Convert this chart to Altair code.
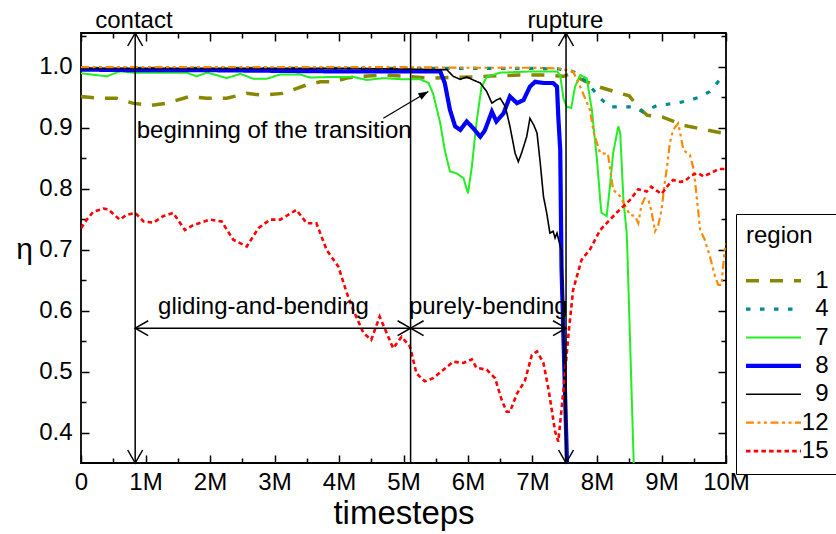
import altair as alt
import pandas as pd

# ---------------- data ----------------
regions = ["1", "4", "7", "8", "9", "12", "15"]
colors = ["#888800", "#008b8b", "#22ee22", "#0000ff", "#000000", "#ff8800", "#ff0000"]
widths = [3.5, 3.2, 2.0, 4.2, 1.6, 2.2, 2.6]
dashes = [[13, 11], [4.5, 9.5], [1, 0], [1, 0], [1, 0], [8, 3.5, 3, 3.5, 3, 3.5], [4.5, 3.2]]

t1 = [0, 0.3, 0.55, 0.8, 1.07, 1.33, 1.69, 1.95, 2.26, 2.57, 2.83, 3.13, 3.29, 3.5, 3.71, 3.91, 4.12, 4.33, 4.69, 5.05,
      5.4, 6.08, 6.44, 6.8, 7.2, 7.48, 7.58, 7.84, 8.05, 8.3, 8.5, 8.65, 8.78, 9.02, 9.33, 9.6, 9.95, 10]
e1 = [0.951, 0.948, 0.948, 0.94, 0.936, 0.94, 0.951, 0.948, 0.948, 0.956, 0.953, 0.956, 0.962, 0.97, 0.975, 0.975, 0.981,
      0.984, 0.986, 0.984, 0.981, 0.983, 0.985, 0.986, 0.986, 0.984, 0.988, 0.975, 0.966, 0.958, 0.952, 0.932, 0.92, 0.917,
      0.904, 0.898, 0.891, 0.889]

t4 = [0, 1, 2, 3, 4, 5, 6, 7, 7.4, 7.63, 7.84, 8.05, 8.2, 8.56, 8.71, 8.93, 9.24, 9.44, 9.6, 9.75, 9.9, 10]
e4 = [0.997, 0.997, 0.997, 0.997, 0.997, 0.997, 0.997, 0.997, 0.996, 0.992, 0.975, 0.948, 0.934, 0.934, 0.926, 0.936,
      0.94, 0.945, 0.95, 0.959, 0.978, 0.988]

t7 = [0, 0.4, 0.6, 0.81, 1.0, 1.33, 1.64, 1.79, 1.95, 2.1, 2.26, 2.47, 2.67, 2.88, 3.09, 3.4, 3.55, 3.91, 4.22, 4.43,
      4.69, 5.0, 5.26, 5.39, 5.46, 5.57, 5.64, 5.72, 5.82, 5.93, 6.0, 6.06, 6.13, 6.21, 6.29, 6.5, 7.0, 7.38, 7.43, 7.48,
      7.53, 7.6, 7.66, 7.74, 7.84, 7.92, 8.0, 8.05, 8.07, 8.15, 8.2, 8.25, 8.33, 8.36, 8.41, 8.46, 8.47, 8.575]
e7 = [0.989, 0.984, 0.992, 0.99, 0.99, 0.99, 0.99, 0.984, 0.99, 0.986, 0.981, 0.988, 0.98, 0.98, 0.987, 0.987, 0.982,
      0.983, 0.983, 0.978, 0.981, 0.979, 0.979, 0.973, 0.955, 0.907, 0.863, 0.828, 0.825, 0.817, 0.792, 0.836, 0.907,
      0.967, 0.983, 0.99, 0.992, 0.992, 0.985, 0.948, 0.934, 0.932, 0.967, 0.986, 0.981, 0.929, 0.847, 0.781, 0.76,
      0.755, 0.803, 0.858, 0.902, 0.891, 0.781, 0.727, 0.70, 0.33]

t8 = [0, 1, 2, 3, 4, 4.5, 5.0, 5.57, 5.64, 5.72, 5.8, 5.88, 5.98, 6.08, 6.19, 6.26, 6.37, 6.44, 6.55, 6.65, 6.76, 6.86,
      6.96, 7.04, 7.17, 7.32, 7.38, 7.4, 7.43, 7.45, 7.54]
e8 = [0.995, 0.994, 0.994, 0.993, 0.992, 0.992, 0.992, 0.992, 0.973, 0.929, 0.902, 0.896, 0.91, 0.899, 0.885, 0.895,
      0.926, 0.91, 0.923, 0.951, 0.94, 0.945, 0.967, 0.975, 0.973, 0.973, 0.967, 0.918, 0.863, 0.67, 0.33]

t9 = [0, 1, 2, 3, 4, 5, 5.57, 5.67, 5.77, 5.88, 5.98, 6.08, 6.19, 6.29, 6.37, 6.44, 6.5, 6.58, 6.65, 6.73, 6.78, 6.83,
      6.91, 6.96, 7.02, 7.07, 7.12, 7.17, 7.22, 7.27, 7.32, 7.35, 7.38, 7.43, 7.45, 7.53]
e9 = [0.997, 0.997, 0.997, 0.997, 0.997, 0.996, 0.995, 0.995, 0.984, 0.979, 0.983, 0.978, 0.973, 0.959, 0.94, 0.945,
      0.948, 0.934, 0.902, 0.858, 0.844, 0.858, 0.885, 0.915, 0.904, 0.891, 0.842, 0.787, 0.76, 0.727, 0.73, 0.719,
      0.727, 0.705, 0.70, 0.33]

t12 = [0, 1, 2, 3, 4, 5, 6, 7, 7.4, 7.63, 7.74, 7.89, 7.95, 8.05, 8.17, 8.25, 8.36, 8.51, 8.59, 8.64, 8.69, 8.74, 8.8,
       8.84, 8.9, 8.95, 9.0, 9.05, 9.08, 9.13, 9.18, 9.26, 9.34, 9.44, 9.5, 9.54, 9.6, 9.67, 9.75, 9.83, 9.88, 9.93,
       9.98, 10]
e12 = [0.999, 0.999, 0.999, 0.999, 0.999, 0.999, 0.998, 0.998, 0.997, 0.992, 0.967, 0.929, 0.891, 0.858, 0.857, 0.798,
       0.787, 0.757, 0.755, 0.743, 0.773, 0.784, 0.78, 0.765, 0.73, 0.74, 0.765, 0.809, 0.831, 0.875, 0.896, 0.907,
       0.863, 0.855, 0.831, 0.792, 0.732, 0.716, 0.689, 0.656, 0.642, 0.642, 0.70, 0.71]

t15 = [0, 0.09, 0.19, 0.35, 0.42, 0.6, 0.71, 0.84, 0.97, 1.12, 1.28, 1.43, 1.61, 1.74, 2.0, 2.18, 2.36, 2.57, 2.75,
       2.93, 3.09, 3.34, 3.5, 3.65, 3.81, 3.99, 4.12, 4.22, 4.38, 4.5, 4.63, 4.76, 4.84, 4.97, 5.1, 5.2, 5.33, 5.46,
       5.62, 5.77, 5.93, 6.06, 6.13, 6.29, 6.42, 6.52, 6.6, 6.65, 6.76, 6.88, 6.99, 7.07, 7.17, 7.25, 7.35, 7.4, 7.48,
       7.56, 7.63, 7.76, 7.89, 8.05, 8.3, 8.51, 8.64, 8.77, 8.84, 8.92, 9.0, 9.13, 9.18, 9.29, 9.36, 9.47, 9.57, 9.65,
       9.78, 9.88, 9.98, 10]
e15 = [0.735, 0.749, 0.762, 0.767, 0.766, 0.749, 0.757, 0.76, 0.746, 0.744, 0.755, 0.76, 0.732, 0.74, 0.749, 0.746,
       0.716, 0.705, 0.735, 0.749, 0.749, 0.765, 0.743, 0.743, 0.699, 0.672, 0.629, 0.601, 0.563, 0.552, 0.59, 0.558,
       0.538, 0.557, 0.541, 0.497, 0.484, 0.489, 0.503, 0.516, 0.514, 0.52, 0.506, 0.503, 0.489, 0.454, 0.434, 0.434,
       0.464, 0.484, 0.527, 0.533, 0.514, 0.47, 0.402, 0.385, 0.47, 0.563, 0.634, 0.683, 0.70, 0.732, 0.76, 0.781,
       0.799, 0.795, 0.803, 0.797, 0.791, 0.809, 0.814, 0.811, 0.812, 0.822, 0.825, 0.82, 0.826, 0.832, 0.832, 0.832]

series_t = [t1, t4, t7, t8, t9, t12, t15]
series_e = [e1, e4, e7, e8, e9, e12, e15]

# axis extents and tick values
x_domain = [0, 10]
y_domain = [0.35, 1.055]
x_major = list(range(0, 11))
x_minor = [0.5, 1.5, 2.5, 3.5, 4.5, 5.5, 6.5, 7.5, 8.5, 9.5]
y_major = [0.4, 0.5, 0.6, 0.7, 0.8, 0.9, 1.0]
y_minor = [0.45, 0.55, 0.65, 0.75, 0.85, 0.95, 1.05]

# annotations
event_t = [0.84, 5.11, 7.52]           # contact, start of purely bending, rupture
phase_eta = 0.571
phase_from = [0.84, 5.11]
phase_to = [5.11, 7.52]
head_t = [0.84, 7.52, 0.84, 7.52, 0.84, 5.11, 5.11, 7.52]
head_eta = [1.055, 1.055, 0.35, 0.35, 0.571, 0.571, 0.571, 0.571]
head_dir = ["up", "up", "down", "down", "left", "right", "left", "right"]
trans_from = [4.687, 0.9154]
trans_to = [5.385, 0.959]
label_text = ["contact", "rupture", "beginning of the transition", "gliding-and-bending", "purely-bending"]
label_t = [0.82, 7.51, 2.995, 2.83, 6.315]
label_eta = [1.063, 1.063, 0.883, 0.594, 0.594]

# ---------------- tables ----------------
rows = []
for reg, ts, es in zip(regions, series_t, series_e):
    for t, e in zip(ts, es):
        rows.append({"region": reg, "t": t, "eta": e})
df = pd.DataFrame(rows)

df_vr = pd.DataFrame({"t": event_t, "y0": [y_domain[0]] * 3, "y1": [y_domain[1]] * 3})
df_hr = pd.DataFrame({"t0": phase_from, "t1": phase_to, "eta": [phase_eta] * 2})
df_heads = pd.DataFrame({"t": head_t, "eta": head_eta, "dir": head_dir})
df_tr = pd.DataFrame({"t0": [trans_from[0]], "e0": [trans_from[1]], "t1": [trans_to[0]], "e1": [trans_to[1]]})
df_lab = pd.DataFrame({"label": label_text, "t": label_t, "eta": label_eta})

FONT = "Liberation Sans"
xs = alt.Scale(domain=x_domain, nice=False, zero=False)
ys = alt.Scale(domain=y_domain, nice=False, zero=False)


def tick_axis(values, orient, size):
    return alt.Axis(values=values, orient=orient, offset=-size, tickSize=size, ticks=True, labels=False,
                    domain=False, grid=False, title=None, tickColor="black", tickWidth=1.5)


W_ARR = "[" + ",".join(str(w) for w in widths) + "]"
R_ARR = "[" + ",".join("'" + r + "'" for r in regions) + "]"


def width_expr(obj, key):
    look = "indexof(" + R_ARR + ", " + obj + "." + key + ")"
    return "((" + obj + " && " + look + " >= 0) ? " + W_ARR + "[" + look + "] : 2)"


# legend line symbol: a long horizontal stroke drawn inside a small symbol cell
leg = alt.Legend(title="region", orient="none", legendX=655, legendY=181, strokeColor="black", fillColor="white",
                 padding=10, titleFontSize=24, titleFontWeight="normal", titleColor="black", titleFont=FONT,
                 titlePadding=20.7, labelFontSize=24, labelColor="black", labelFont=FONT,
                 symbolType="M-2.895,0L2.895,0", symbolSize=361, symbolOffset=15.5,
                 labelAlign="right", labelOffset=43, rowPadding=4.4, labelLimit=200,
                 symbolStrokeWidth={"expr": width_expr("datum", "value")})

lines = alt.Chart(df).mark_line(clip=True, strokeWidth={"expr": width_expr("datum", "region")}).encode(
    x=alt.X("t:Q", scale=xs, axis=alt.Axis(values=x_major, labelExpr="datum.value == 0 ? '0' : datum.value + 'M'",
                                           ticks=False, tickSize=0, domain=False, grid=False, labelPadding=7,
                                           labelFlush=False, labelOverlap=False,
                                           labelFontSize=24, labelFont=FONT, labelColor="black",
                                           title="timesteps", titleFontSize=33, titleFont=FONT,
                                           titleFontWeight="normal", titleColor="black", titleX=322.5, titleY=60.6,
                                           titleAlign="center", titleBaseline="alphabetic", orient="bottom")),
    y=alt.Y("eta:Q", scale=ys, axis=alt.Axis(values=y_major, format=".1f", ticks=False, tickSize=0, domain=False,
                                             grid=False, labelPadding=9, labelFontSize=24, labelFont=FONT,
                                             labelFlush=False, labelOverlap=False,
                                             labelColor="black", title="η", titleAngle=0, titleFontSize=30,
                                             titleFont=FONT, titleFontWeight="normal", titleColor="black",
                                             titleX=-57, titleY=225, titleAlign="center",
                                             titleBaseline="alphabetic", orient="left")),
    color=alt.Color("region:N", scale=alt.Scale(domain=regions, range=colors), legend=leg),
    strokeDash=alt.StrokeDash("region:N", scale=alt.Scale(domain=regions, range=dashes), legend=leg),
    detail="region:N",
)

vrules = alt.Chart(df_vr).mark_rule(color="black", strokeWidth=1.5).encode(
    x=alt.X("t:Q", scale=xs, axis=tick_axis(x_major, "bottom", 8)),
    y=alt.Y("y0:Q", scale=ys, axis=tick_axis(y_major, "left", 8)),
    y2="y1:Q",
)

hrules = alt.Chart(df_hr).mark_rule(color="black", strokeWidth=1.5).encode(
    x=alt.X("t0:Q", scale=xs, axis=tick_axis(x_minor, "bottom", 5)),
    x2="t1:Q",
    y=alt.Y("eta:Q", scale=ys, axis=tick_axis(y_minor, "left", 5)),
)

shape_paths = ["M-1.15,2L0,0L1.15,2", "M-1.15,-2L0,0L1.15,-2", "M2,-1.15L0,0L2,1.15", "M-2,-1.15L0,0L-2,1.15"]
heads = alt.Chart(df_heads).mark_point(filled=False, color="black", strokeWidth=1.5, size=169, opacity=1).encode(
    x=alt.X("t:Q", scale=xs, axis=tick_axis(x_major, "top", 8)),
    y=alt.Y("eta:Q", scale=ys, axis=tick_axis(y_major, "right", 8)),
    shape=alt.Shape("dir:N", scale=alt.Scale(domain=["up", "down", "left", "right"], range=shape_paths),
                    legend=None),
)

labels = alt.Chart(df_lab).mark_text(font=FONT, fontSize=24, color="black", align="center",
                                     baseline="alphabetic").encode(
    x=alt.X("t:Q", scale=xs, axis=tick_axis(x_minor, "top", 5)),
    y=alt.Y("eta:Q", scale=ys, axis=tick_axis(y_minor, "right", 5)),
    text="label:N",
)

tr_line = alt.Chart(df_tr).mark_rule(color="black", strokeWidth=1.2).encode(
    x=alt.X("t0:Q", scale=xs, axis=None), x2="t1:Q",
    y=alt.Y("e0:Q", scale=ys, axis=None), y2="e1:Q",
)
tr_head = alt.Chart(df_tr).mark_point(shape="M0,0L-2,-0.75L-2,0.75Z", filled=True, color="black", size=100,
                                      angle=330, opacity=1).encode(
    x=alt.X("t1:Q", scale=xs, axis=None),
    y=alt.Y("e1:Q", scale=ys, axis=None),
)

chart = alt.layer(lines, vrules, hrules, heads, labels, tr_line, tr_head).resolve_axis(
    x="independent", y="independent"
).properties(
    width=645, height=430,
    autosize=alt.AutoSizeParams(type="none"),
    padding={"left": 81, "top": 33, "right": 110, "bottom": 71},
).configure(font=FONT).configure_view(stroke="black", strokeWidth=1.8)

chart.save("out.html", embed_options={"renderer": "svg", "actions": False})
